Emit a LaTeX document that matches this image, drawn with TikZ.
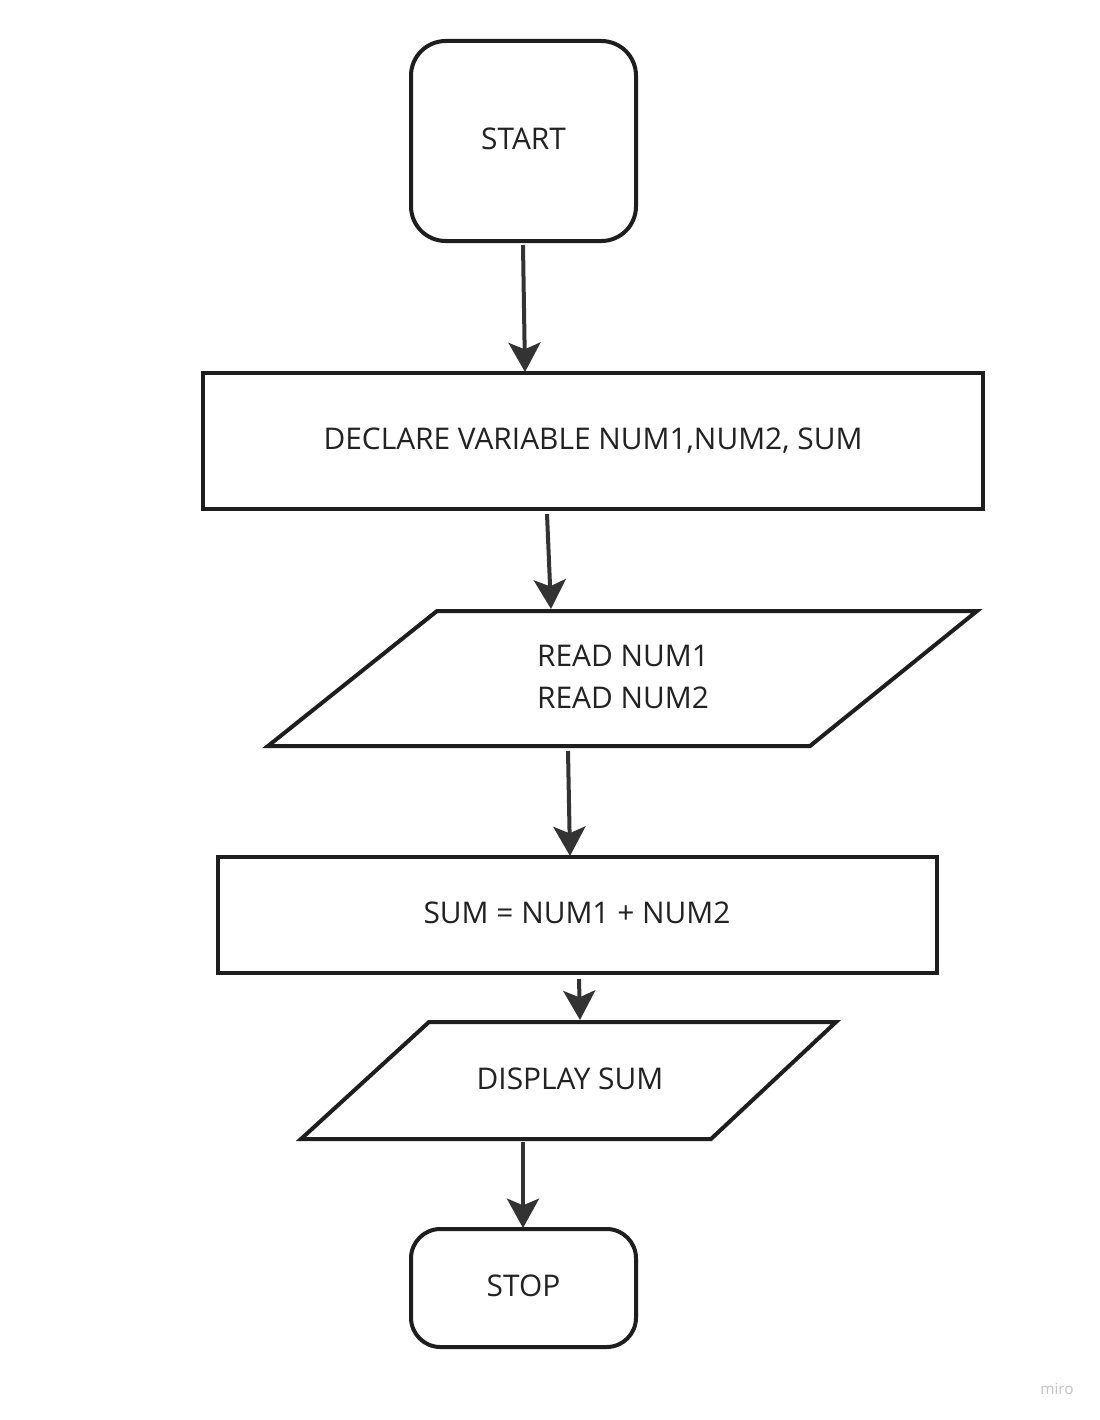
\documentclass[tikz,border=0pt]{standalone}
\usepackage{fontspec}
\setmainfont{Open Sans}
\usetikzlibrary{arrows.meta,calc}
\definecolor{linec}{HTML}{1E1E1E}
\definecolor{arrc}{HTML}{333333}
\definecolor{txtc}{HTML}{222222}
\definecolor{logoc}{HTML}{C4C4C4}
\begin{document}
\begin{tikzpicture}[x=0.75pt,y=-0.75pt,
  box/.style={draw=linec,line width=3pt,inner sep=0pt,outer sep=0pt},
  term/.style={box,rounded corners=26pt},
  lbl/.style={inner sep=0pt,outer sep=0pt,text=txtc,font=\fontsize{22.4}{31.5}\selectfont},
  iobox/.style={inner sep=0pt,outer sep=0pt},
  pgram/.style={draw=linec,line width=3pt,line join=miter},
  arr/.style={draw=arrc,line width=3pt,-{Stealth[length=22pt,width=24pt,inset=5pt]}}]
\fill[white] (0,0) rectangle (1099,1420);
\useasboundingbox (0,0) rectangle (1099,1420);

\node[term,minimum width=168.75pt,minimum height=150pt] (start) at (523.5,141) {};
\node[lbl] (starttxt) at (523.5,139) {START};

\node[box,minimum width=585pt,minimum height=102pt] (declare) at (593,441) {};
\node[lbl] (declaretxt) at (593,441) {DECLARE VARIABLE NUM1,NUM2, SUM};

\node[iobox,minimum width=531.75pt,minimum height=101.25pt] (read) at (622.5,678.5) {};
\draw[pgram] (268,746) -- (437,611) -- (977,611) -- (810,746) -- cycle;
\node[lbl,align=left] (readtxt) at (623,677) {READ NUM1\\READ NUM2};

\node[box,minimum width=539.25pt,minimum height=87pt] (sum) at (577.5,915) {};
\node[lbl] (sumtxt) at (577,913) {SUM = NUM1 + NUM2};

\node[iobox,minimum width=401.25pt,minimum height=87.75pt] (display) at (568.5,1080.5) {};
\draw[pgram] (301,1139) -- (429,1022) -- (836,1022) -- (711,1139) -- cycle;
\node[lbl] (displaytxt) at (570,1079) {DISPLAY SUM};

\node[term,rounded corners=22pt,minimum width=168.75pt,minimum height=88.5pt] (stop) at (523.5,1288) {};
\node[lbl] (stoptxt) at (523.5,1286) {STOP};

\draw[arr] ($(start.south)+(-0.5,4)$) -- ($(declare.north)+(-68,-1)$);
\draw[arr] ($(declare.south)+(-46,5)$) -- ($(read.north)+(-71.5,-2)$);
\draw[arr] ($(read.south)+(-54.5,5)$) -- ($(sum.north)+(-7.5,-1)$);
\draw[arr] ($(sum.south)+(1.5,6)$) -- ($(display.north)+(11.5,-2)$);
\draw[arr] ($(display.south)+(-45.5,3)$) -- ($(stop.north)+(-0.5,-1)$);

\node[text=logoc,font=\fontsize{11.5}{13}\selectfont,inner sep=0pt] (logo) at (1057,1389) {miro};
\end{tikzpicture}
\end{document}
